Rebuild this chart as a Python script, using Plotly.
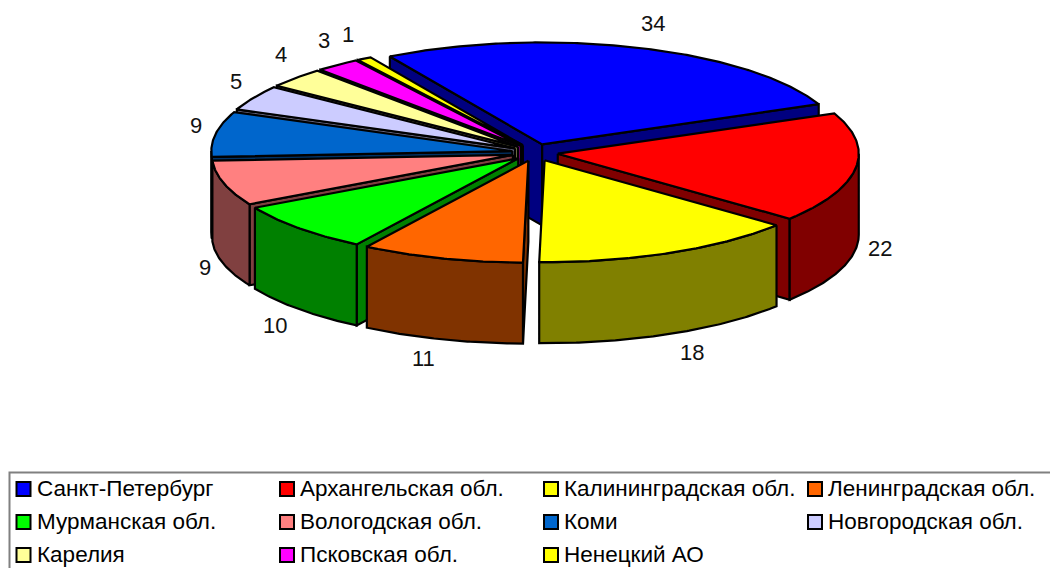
import math
import plotly.graph_objects as go

categories = ["Санкт-Петербург", "Архангельская обл.", "Калининградская обл.", "Ленинградская обл.",
              "Мурманская обл.", "Вологодская обл.", "Коми", "Новгородская обл.",
              "Карелия", "Псковская обл.", "Ненецкий АО"]
values = [34, 22, 18, 11, 10, 9, 9, 5, 4, 3, 1]
top_colors = ["#0000FF", "#FF0000", "#FFFF00", "#FF6600", "#00FF00", "#FF8080",
              "#0066CC", "#CCCCFF", "#FFFF99", "#FF00FF", "#FFFF00"]
side_colors = ["#000080", "#800000", "#808000", "#803300", "#008000", "#804040",
               "#003366", "#666680", "#80804D", "#800080", "#808000"]

# projection of the pie on the page (pixels)
CX, CY, RX, RY, DEPTH = 535, 152.5, 301, 102, 81
EX, EY = 23, 8.5
START = -30.4
label_xy = [(653, 23), (880, 248), (692, 352), (423, 358), (275, 325), (205, 267),
            (196, 125), (236, 81), (281, 54), (324, 40), (348, 34)]
legend_cols = [23.5, 287, 551, 815]
legend_rows = [489, 522, 555]

fig = go.Figure()


def poly(xs, ys, color):
    fig.add_trace(go.Scatter(x=xs + xs[:1], y=ys + ys[:1], mode="lines", fill="toself",
                             fillcolor=color, line=dict(color="black", width=2.2),
                             hoverinfo="skip", showlegend=False))


total = sum(values)
slices = []
a = START
for i, v in enumerate(values):
    b = a + v / total * 360
    slices.append((i, a, b))
    a = b
slices.sort(key=lambda s: -math.cos(math.radians((s[1] + s[2]) / 2)))

for i, a1, a2 in slices:
    mid = math.radians((a1 + a2) / 2)
    ax = CX + EX * math.sin(mid)
    ay = CY - EY * math.cos(mid)

    def pt(deg):
        r = math.radians(deg)
        return ax + RX * math.sin(r), ay - RY * math.cos(r)

    # cut walls
    if math.sin(math.radians(a1)) < 0:
        x, y = pt(a1)
        poly([ax, x, x, ax], [ay, y, y + DEPTH, ay + DEPTH], side_colors[i])
    if math.sin(math.radians(a2)) > 0:
        x, y = pt(a2)
        poly([ax, x, x, ax], [ay, y, y + DEPTH, ay + DEPTH], side_colors[i])
    # outer wall: only the front half of the rim is visible
    lo, hi = max(a1, 90), min(a2, 270)
    if hi > lo:
        n = max(2, int((hi - lo) * 2))
        arc = [pt(lo + (hi - lo) * k / n) for k in range(n + 1)]
        xs = [p[0] for p in arc] + [p[0] for p in reversed(arc)]
        ys = [p[1] for p in arc] + [p[1] + DEPTH for p in reversed(arc)]
        poly(xs, ys, side_colors[i])
    # top face
    n = max(2, int((a2 - a1) * 2))
    arc = [pt(a1 + (a2 - a1) * k / n) for k in range(n + 1)]
    poly([ax] + [p[0] for p in arc], [ay] + [p[1] for p in arc], top_colors[i])

annotations = []
for v, (x, y) in zip(values, label_xy):
    annotations.append(dict(x=x, y=y, text=str(v), showarrow=False, xanchor="center", yanchor="middle",
                            font=dict(size=22, color="#111111")))

shapes = [dict(type="rect", x0=9.5, y0=472.5, x1=1070, y1=590, line=dict(color="#808080", width=2),
               fillcolor="rgba(0,0,0,0)", layer="below")]
for k, name in enumerate(categories):
    col, row = k % 4, k // 4
    x, y = legend_cols[col], legend_rows[row]
    shapes.append(dict(type="rect", x0=x - 7, x1=x + 7, y0=y - 7, y1=y + 7,
                       fillcolor=top_colors[k], line=dict(color="black", width=2), layer="above"))
    annotations.append(dict(x=x + 11, y=y - 1, text=name, showarrow=False, xanchor="left", yanchor="middle",
                            font=dict(size=22.5, color="black")))

fig.update_layout(
    width=1050, height=568, margin=dict(l=0, r=0, t=0, b=0),
    paper_bgcolor="white", plot_bgcolor="white",
    font=dict(family="Liberation Sans, Arial, sans-serif"),
    xaxis=dict(range=[0, 1050], visible=False, fixedrange=True),
    yaxis=dict(range=[568, 0], visible=False, fixedrange=True),
    annotations=annotations, shapes=shapes, showlegend=False,
)
fig.write_html("out.html", config=dict(displayModeBar=False),
               post_script="document.body.style.margin='0';document.body.style.overflow='hidden';")
